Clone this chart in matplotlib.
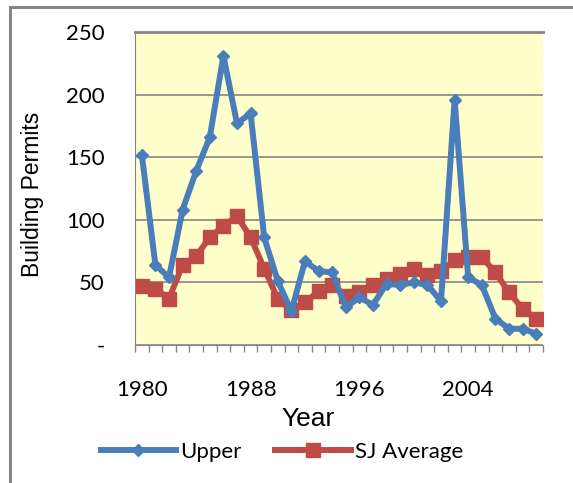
import matplotlib.pyplot as plt
from matplotlib.patches import Rectangle

plt.rcParams['font.family'] = ['Lato', 'DejaVu Sans']

years = list(range(1980, 2010))
upper = [152, 64, 54, 108, 139, 166, 231, 177, 185, 86,
         51, 27, 67, 59, 58, 30, 38, 32, 49, 48,
         50, 48, 35, 196, 54, 48, 21, 13, 13, 9]
sj_average = [47, 45, 37, 64, 71, 86, 95, 103, 86, 61,
              37, 28, 34, 43, 48, 39, 42, 48, 53, 57,
              61, 56, 59, 68, 70, 70, 58, 42, 29, 21]
y_ticks = [0, 50, 100, 150, 200, 250]
y_tick_labels = ['-', '50', '100', '150', '200', '250']
x_label_years = [1980, 1988, 1996, 2004]

W, H = 573, 483
fig = plt.figure(figsize=(W / 100, H / 100), dpi=100)

# outer chart border (only top and left edges fall inside the image)
fig.patches.append(Rectangle((10 / W, -0.1), 1.2, (H - 7) / H + 0.1,
                             transform=fig.transFigure, fill=False,
                             edgecolor='#868686', linewidth=2.2))

ax = fig.add_axes([135 / W, (H - 345) / H, 408 / W, 313 / H])
ax.set_facecolor('#FFFFCC')

x = list(range(len(years)))
ax.plot(x, upper, color='#4A7EBB', linewidth=4.3, marker='D', markersize=6,
        label='Upper', zorder=3)
ax.plot(x, sj_average, color='#BE4B48', linewidth=4.3, marker='s',
        markersize=10, label='SJ Average', zorder=2)

ax.set_xlim(-0.5, len(years) - 0.5)
ax.set_ylim(0, 250)

# category boundaries carry the tick marks, year labels sit on the centres
ax.set_xticks([i - 0.5 for i in range(len(years) + 1)])
ax.set_xticklabels([])
ax.set_xticks([years.index(y) for y in x_label_years], minor=True)
ax.set_xticklabels([str(y) for y in x_label_years], minor=True)
ax.tick_params(axis='x', which='major', direction='out', length=5,
               color='#868686', width=1)
ax.tick_params(axis='x', which='minor', length=0, pad=25, labelsize=16)

ax.set_yticks(y_ticks)
ax.set_yticklabels(y_tick_labels)
ax.tick_params(axis='y', length=0, pad=22, labelsize=16)

ax.grid(axis='y', color='#868686', linewidth=1.2)
ax.set_axisbelow(True)
ax.spines['right'].set_visible(False)
ax.spines['top'].set_color('#868686')
ax.spines['top'].set_linewidth(2)
ax.spines['left'].set_color('#868686')
ax.spines['bottom'].set_color('#868686')

fig.text(308 / W, 1 - 419 / H, 'Year', family='Liberation Sans',
         fontsize=19, ha='center', va='center')
fig.text(33 / W, 1 - 194 / H, 'Building Permits', family='Liberation Sans',
         fontsize=16.5, rotation=90, ha='center', va='center')

fig.legend(loc='center', bbox_to_anchor=(282 / W, 1 - 452 / H), ncol=2,
           frameon=False, fontsize=16, handlelength=3.4, handletextpad=0.2,
           columnspacing=1.5, numpoints=1)

fig.savefig('out.png', dpi=100)
